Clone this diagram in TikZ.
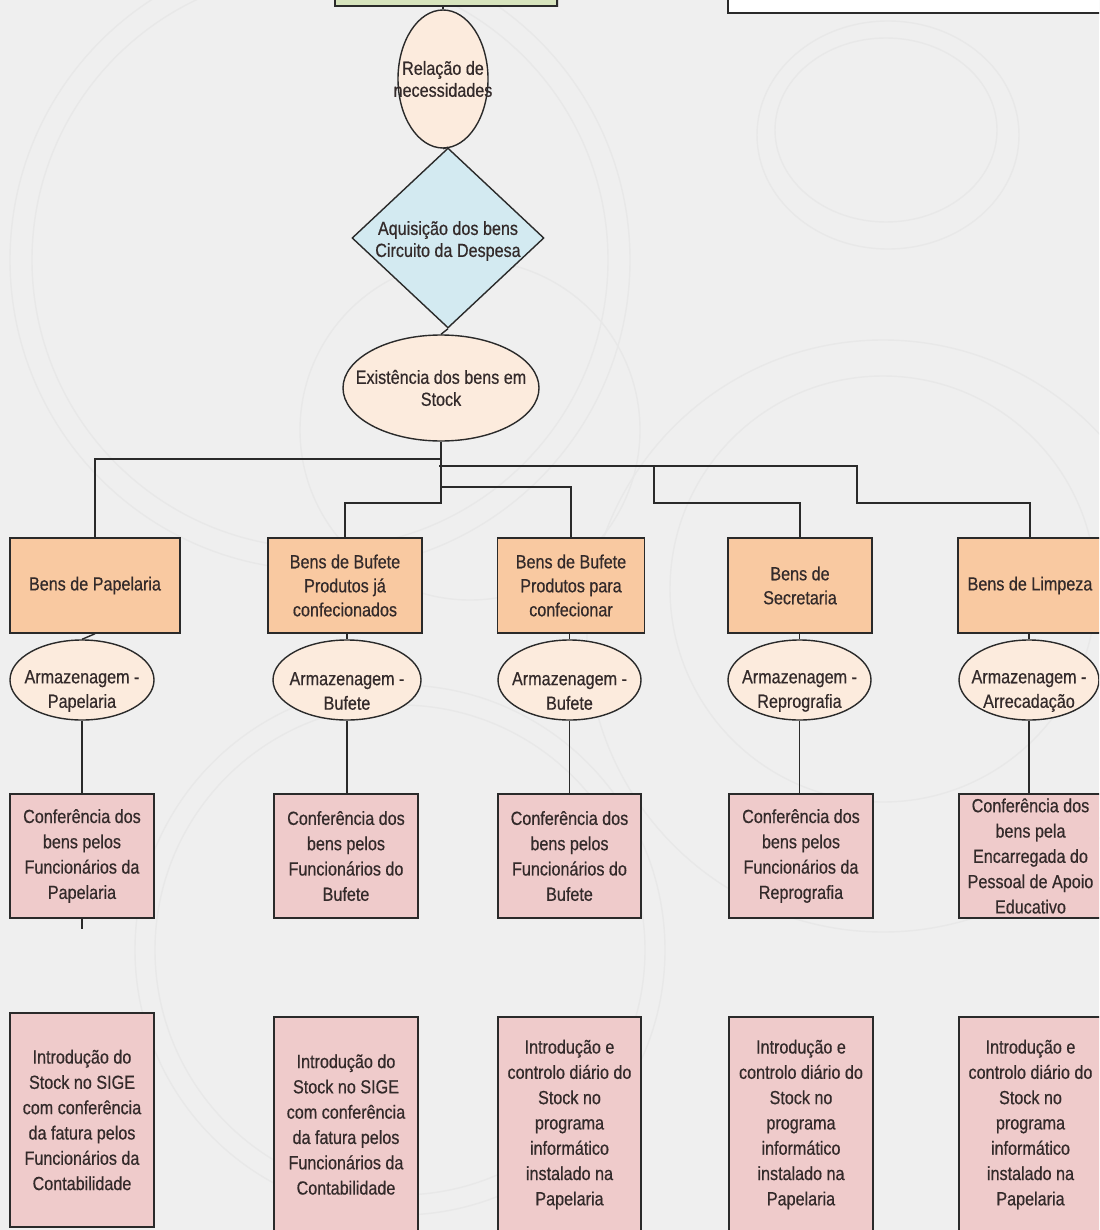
\documentclass[tikz,border=0pt]{standalone}
\usepackage{fontspec}
\setmainfont{Liberation Sans}[FakeStretch=0.85,FakeBold=0.5]
\usetikzlibrary{shapes.geometric,shadows}
\definecolor{paper}{HTML}{EFEFEF}
\definecolor{ringc}{HTML}{E8E8E8}
\definecolor{edgec}{HTML}{2A2A2A}
\definecolor{txtc}{HTML}{332A2A}
\definecolor{goodsfill}{HTML}{F9C9A1}
\definecolor{storefill}{HTML}{FCEBDD}
\definecolor{checkfill}{HTML}{EFCBCB}
\definecolor{bluefill}{HTML}{D3EAF1}
\definecolor{greenfill}{HTML}{D7E4BD}
\begin{document}
\begin{tikzpicture}[x=1pt,y=-1pt,
  wire/.style={draw=edgec,line width=1.4pt},
  ring/.style={draw=ringc,line width=1.4pt},
  slab/.style={draw=edgec,line width=1.6pt,inner sep=0pt,
    drop shadow={shadow xshift=1.5pt,shadow yshift=-1.5pt,opacity=0.25}},
  frame/.style={draw=edgec,line width=1.5pt,inner sep=0pt,text=txtc,align=center},
  goods/.style={frame,fill=goodsfill,font=\fontsize{19}{24}\selectfont},
  check/.style={frame,fill=checkfill,font=\fontsize{19}{25.3}\selectfont},
  store/.style={ellipse,draw=edgec,line width=1.4pt,fill=storefill,inner sep=0pt},
  caption/.style={inner sep=0pt,text=txtc,align=center,font=\fontsize{19}{22}\selectfont},
  storecap/.style={caption,font=\fontsize{19}{24.5}\selectfont}]

\useasboundingbox (0,0) rectangle (1099,1230);
\clip (0,0) rectangle (1099,1230);
\fill[paper] (0,0) rectangle (1099,1230);

% faint decorative rings on the page background
\draw[ring] (888,135) ellipse [x radius=131pt,y radius=114pt];
\draw[ring] (886,130) ellipse [x radius=111pt,y radius=92pt];
\draw[ring] (883,636) circle [radius=296pt];
\draw[ring] (883,589) circle [radius=213pt];
\draw[ring] (320,260) circle [radius=310pt];
\draw[ring] (320,260) circle [radius=288pt];
\draw[ring] (470,430) circle [radius=170pt];
\draw[ring] (400,950) circle [radius=245pt];
\draw[ring] (400,950) circle [radius=265pt];

% header boxes, cut by the top edge
\node[slab,fill=greenfill,minimum width=222pt,minimum height=30pt] (topbox) at (446,-9) {};
\node[slab,fill=white,minimum width=384pt,minimum height=36pt] (notebox) at (920,-5) {};

% main chain
\node[store,minimum width=90pt,minimum height=138pt] (rel) at (443,79) {};
\node[caption] (relt) at (rel.center) {Relação de\\necessidades};
\node[diamond,draw=edgec,line width=1.4pt,fill=bluefill,inner sep=0pt,
      minimum width=192pt,minimum height=180pt] (aq) at (448,238) {};
\node[caption] (aqt) at ([yshift=-3pt]aq.center) {Aquisição dos bens\\Circuito da Despesa};
\node[store,minimum width=196pt,minimum height=106pt] (ex) at (441,388) {};
\node[caption] (ext) at (ex.center) {Existência dos bens em\\Stock};

\draw[wire] (rel.north |- topbox.south) -- (rel.north);
\draw[wire] (rel.south) -- (aq.north);
\draw[wire] (aq.south) -- (ex.north);

% categories of goods
\node[goods,minimum width=170pt,minimum height=95pt] (b1) at (95,585.5) {Bens de Papelaria};
\node[goods,minimum width=154pt,minimum height=95pt] (b2) at (345,585.5) {Bens de Bufete\\Produtos já\\confecionados};
\node[goods,minimum width=147pt,minimum height=95pt] (b3) at (571,585.5) {Bens de Bufete\\Produtos para\\confecionar};
\node[goods,minimum width=144pt,minimum height=95pt] (b4) at (800,585.5) {Bens de\\Secretaria};
\node[goods,minimum width=144pt,minimum height=95pt] (b5) at (1030,585.5) {Bens de Limpeza};

% storage places
\node[store,minimum width=144pt,minimum height=80pt] (e1) at (82,680) {};
\node[store,minimum width=148pt,minimum height=80pt] (e2) at (347,680) {};
\node[store,minimum width=143pt,minimum height=80pt] (e3) at (569.5,680) {};
\node[store,minimum width=143pt,minimum height=80pt] (e4) at (799.5,680) {};
\node[store,minimum width=140pt,minimum height=80pt] (e5) at (1029,680) {};
\node[storecap] (e1t) at ([yshift=-11pt]e1.center) {Armazenagem -\\Papelaria};
\node[storecap] (e2t) at ([yshift=-11pt]e2.center) {Armazenagem -\\Bufete};
\node[storecap] (e3t) at ([yshift=-11pt]e3.center) {Armazenagem -\\Bufete};
\node[storecap] (e4t) at ([yshift=-11pt]e4.center) {Armazenagem -\\Reprografia};
\node[storecap] (e5t) at ([yshift=-11pt]e5.center) {Armazenagem -\\Arrecadação};

% checking of the goods
\node[check,minimum width=144pt,minimum height=124pt] (c1) at (82,856) {Conferência dos\\bens pelos\\Funcionários da\\Papelaria};
\node[check,minimum width=144pt,minimum height=124pt] (c2) at (346,856) {Conferência dos\\bens pelos\\Funcionários do\\Bufete};
\node[check,minimum width=143pt,minimum height=124pt] (c3) at (569.5,856) {Conferência dos\\bens pelos\\Funcionários do\\Bufete};
\node[check,minimum width=144pt,minimum height=124pt] (c4) at (801,856) {Conferência dos\\bens pelos\\Funcionários da\\Reprografia};
\node[check,minimum width=143pt,minimum height=124pt] (c5) at (1030.5,856) {Conferência dos\\bens pela\\Encarregada do\\Pessoal de Apoio\\Educativo};

% stock entry
\node[check,minimum width=144pt,minimum height=214pt] (i1) at (82,1120) {Introdução do\\Stock no SIGE\\com conferência\\da fatura pelos\\Funcionários da\\Contabilidade};
\node[check,minimum width=144pt,minimum height=215pt] (i2) at (346,1124.5) {Introdução do\\Stock no SIGE\\com conferência\\da fatura pelos\\Funcionários da\\Contabilidade};
\node[check,minimum width=143pt,minimum height=215pt] (i3) at (569.5,1124.5) {Introdução e\\controlo diário do\\Stock no\\programa\\informático\\instalado na\\Papelaria};
\node[check,minimum width=144pt,minimum height=215pt] (i4) at (801,1124.5) {Introdução e\\controlo diário do\\Stock no\\programa\\informático\\instalado na\\Papelaria};
\node[check,minimum width=143pt,minimum height=215pt] (i5) at (1030.5,1124.5) {Introdução e\\controlo diário do\\Stock no\\programa\\informático\\instalado na\\Papelaria};

% distribution tree
\coordinate (hub) at (441,503);
\coordinate (t1) at (441,459);
\coordinate (t2) at (439,466);
\coordinate (t2e) at (858,466);
\coordinate (t3) at (441,487);
\coordinate (k4) at (654,466);
\coordinate (k4b) at (654,503);
\coordinate (k5) at (857,466);
\coordinate (k5b) at (857,503);
\draw[wire] (ex.south) -- (hub) -| (b2.north);
\draw[wire] (t1) -| (b1.north);
\draw[wire] (t3) -| (b3.north);
\draw[wire] (t2) -- (t2e);
\draw[wire] (k4) -- (k4b) -| (b4.north);
\draw[wire] (k5) -- (k5b) -| (b5.north);

% goods to storage, storage to checking
\draw[wire] (b1.south) -- (e1.north);
\foreach \i in {2,...,5}{
  \draw[wire] (e\i.north |- b\i.south) -- (e\i.north);
}
\foreach \i in {1,...,5}{
  \draw[wire] (e\i.south) -- (e\i.south |- c\i.north);
}
\coordinate (c1tail) at (82,929);
\draw[wire] (c1.south) -- (c1tail);
\end{tikzpicture}
\end{document}
